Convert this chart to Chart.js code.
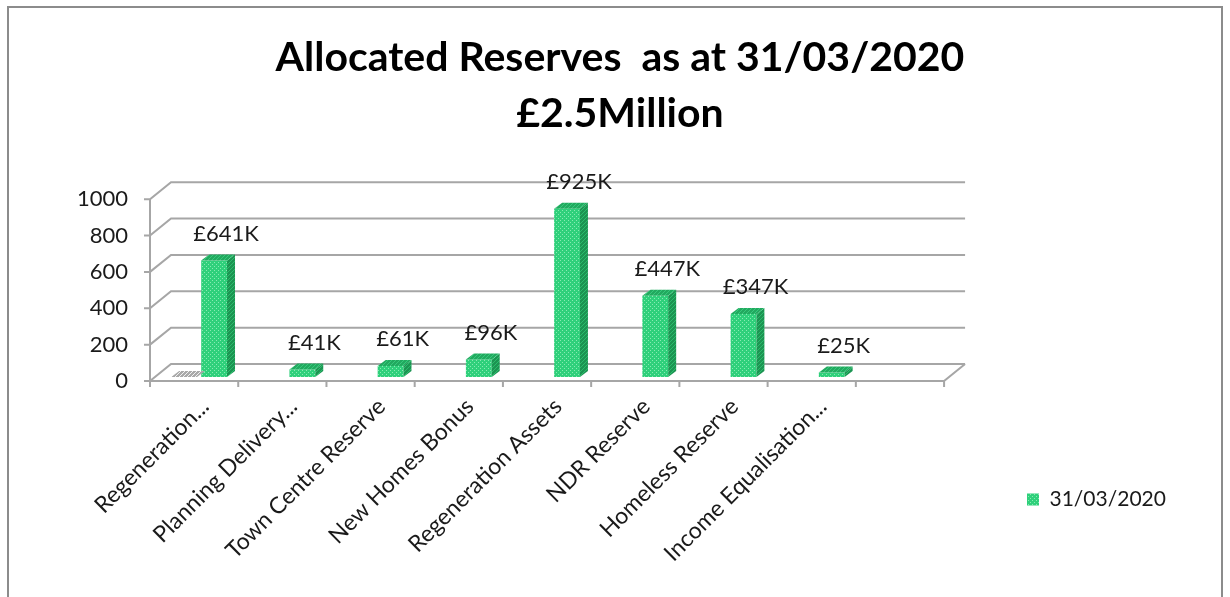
<!DOCTYPE html>
<html>
<head>
<meta charset="utf-8">
<title>Allocated Reserves</title>
<script src="https://cdn.jsdelivr.net/npm/chart.js@4.4.0/dist/chart.umd.min.js"></script>
<style>
    html, body { margin: 0; padding: 0; background: #fff; }
    #wrap { width: 1230px; height: 597px; }
</style>
</head>
<body>
<div id="wrap"><canvas id="reservesChart" width="1230" height="597"></canvas></div>
<script>
// chart data
const categories = ["Regeneration...", "Planning Delivery...", "Town Centre Reserve", "New Homes Bonus",
    "Regeneration Assets", "NDR Reserve", "Homeless Reserve", "Income Equalisation...", ""];
const reserves2020 = [641, 41, 61, 96, 925, 447, 347, 25, null];   // £K
const otherSeries = [0, null, null, null, null, null, null, null, null]; // flat grey series, not in legend
const yTickValues = [0, 200, 400, 600, 800, 1000];
const titleLines = ["Allocated Reserves  as at 31/03/2020", "£2.5Million"];
const seriesName = "31/03/2020";

const FONT = "Lato";
const GRID = "#a6a6a6";
const FRONT = { x: -5, y: 4 };   // front wall offset from bar plane
const BACK = { x: 16, y: -13 };  // back wall offset from bar plane
const DEPTH = { x: 8, y: -6 };   // bar depth

const canvas = document.getElementById("reservesChart");
const ctx = canvas.getContext("2d");

// small tiled patterns like the excel fills
function dotPattern(base, dot) {
    const c = document.createElement("canvas");
    c.width = 4; c.height = 4;
    const g = c.getContext("2d");
    g.fillStyle = base; g.fillRect(0, 0, 4, 4);
    g.fillStyle = dot; g.fillRect(0, 0, 1, 1); g.fillRect(2, 2, 1, 1);
    return ctx.createPattern(c, "repeat");
}
function stripePattern(base, stripe) {
    const c = document.createElement("canvas");
    c.width = 4; c.height = 4;
    const g = c.getContext("2d");
    g.fillStyle = base; g.fillRect(0, 0, 4, 4);
    g.fillStyle = stripe;
    for (let i = 0; i < 4; i++) g.fillRect(i, 3 - i, 1, 1);
    return ctx.createPattern(c, "repeat");
}

const greenFront = dotPattern("#2fd07b", "#86ebb2");
const greenSide = stripePattern("#1c9452", "#2bbd6c");
const greenTop = stripePattern("#22a95f", "#36c97b");
const greyTop = stripePattern("#a8a8a8", "#f0f0f0");

// white page + thin frame round the chart
const backgroundFrame = {
    id: "backgroundFrame",
    beforeDraw(chart) {
        const c = chart.ctx;
        c.save();
        c.fillStyle = "#fff";
        c.fillRect(0, 0, chart.width, chart.height);
        c.strokeStyle = "#8c8c8c";
        c.lineWidth = 2;
        c.strokeRect(8, 7, 1214, 620);
        c.restore();
    }
};

// walls, floor and gridlines in fake 3d
const wallsGrid = {
    id: "wallsGrid",
    beforeDatasetsDraw(chart) {
        const c = chart.ctx;
        const { left, right } = chart.chartArea;
        const y = chart.scales.y, x = chart.scales.x;
        const base = y.getPixelForValue(0);
        const top = y.getPixelForValue(yTickValues[yTickValues.length - 1]);
        c.save();
        c.strokeStyle = GRID;
        c.lineWidth = 2;
        c.beginPath();
        yTickValues.forEach(v => {
            const py = y.getPixelForValue(v);
            c.moveTo(left + FRONT.x - 6, py + FRONT.y);
            c.lineTo(left + FRONT.x, py + FRONT.y);
            c.lineTo(left + BACK.x, py + BACK.y);
            c.lineTo(right + BACK.x, py + BACK.y);
        });
        // front axis lines
        c.moveTo(left + FRONT.x, top + FRONT.y);
        c.lineTo(left + FRONT.x, base + FRONT.y);
        c.lineTo(right + FRONT.x, base + FRONT.y);
        c.lineTo(right + BACK.x, base + BACK.y);
        // category boundary ticks
        for (let i = 0; i <= categories.length; i++) {
            const px = x.getPixelForValue(i - 0.5);
            c.moveTo(px + FRONT.x, base + FRONT.y);
            c.lineTo(px + FRONT.x, base + FRONT.y + 6);
        }
        c.stroke();
        c.restore();
    }
};

// side and top faces of the bars
const barFaces = {
    id: "barFaces",
    afterDatasetsDraw(chart) {
        const c = chart.ctx;
        chart.data.datasets.forEach((ds, di) => {
            const meta = chart.getDatasetMeta(di);
            meta.data.forEach((bar, i) => {
                if (ds.data[i] === null) return;
                const { x, y, base, width } = bar.getProps(["x", "y", "base", "width"], true);
                const l = x - width / 2, r = x + width / 2;
                c.save();
                if (ds.sideFill && base - y > 0) {
                    c.fillStyle = ds.sideFill;
                    c.beginPath();
                    c.moveTo(r, y);
                    c.lineTo(r + DEPTH.x, y + DEPTH.y);
                    c.lineTo(r + DEPTH.x, base + DEPTH.y);
                    c.lineTo(r, base);
                    c.closePath();
                    c.fill();
                }
                c.fillStyle = ds.topFill;
                c.beginPath();
                c.moveTo(l, y);
                c.lineTo(l + DEPTH.x, y + DEPTH.y);
                c.lineTo(r + DEPTH.x, y + DEPTH.y);
                c.lineTo(r, y);
                c.closePath();
                c.fill();
                c.restore();
            });
        });
    }
};

// £..K labels above the green bars
const valueLabels = {
    id: "valueLabels",
    afterDatasetsDraw(chart) {
        const c = chart.ctx;
        const meta = chart.getDatasetMeta(1);
        c.save();
        c.font = "22px " + FONT;
        c.fillStyle = "#1a1a1a";
        c.textAlign = "center";
        c.textBaseline = "middle";
        meta.data.forEach((bar, i) => {
            const v = reserves2020[i];
            if (v === null) return;
            c.fillText("£" + v + "K", bar.x + 12, bar.y - 27);
        });
        c.restore();
    }
};

// legend sits low on the right in the original
const legendSpot = {
    id: "legendSpot",
    afterLayout(chart) {
        const lg = chart.legend;
        const pad = lg.options.labels.padding;
        const dx = 1027 - (lg.left + pad);
        const dy = 489 - (lg.top + pad);
        lg.left += dx; lg.right += dx;
        lg.top += dy; lg.bottom += dy;
    }
};

new Chart(ctx, {
    type: "bar",
    data: {
        labels: categories,
        datasets: [{
            label: "",
            data: otherSeries,
            backgroundColor: greyTop,
            topFill: greyTop,
            sideFill: null,
            borderWidth: 0,
            categoryPercentage: 0.68,
            barPercentage: 0.86
        }, {
            label: seriesName,
            data: reserves2020,
            backgroundColor: greenFront,
            topFill: greenTop,
            sideFill: greenSide,
            borderWidth: 0,
            categoryPercentage: 0.68,
            barPercentage: 0.86
        }]
    },
    options: {
        responsive: false,
        animation: false,
        layout: { padding: { left: 20, right: 10, top: 0, bottom: 0 } },
        plugins: {
            title: {
                display: true,
                text: titleLines,
                color: "#000",
                font: { family: FONT, size: 41, weight: "bold", lineHeight: 1.38 },
                padding: { top: 29, bottom: 53 }
            },
            legend: {
                position: "right",
                align: "start",
                labels: {
                    filter: item => item.text !== "",
                    boxWidth: 12,
                    boxHeight: 12,
                    padding: 122,
                    color: "#1a1a1a",
                    font: { family: FONT, size: 21 }
                }
            },
            tooltip: { enabled: false }
        },
        scales: {
            x: {
                grid: { display: false, drawTicks: false },
                border: { display: false },
                ticks: {
                    autoSkip: false,
                    minRotation: 45,
                    maxRotation: 45,
                    padding: 16,
                    labelOffset: 6,
                    color: "#1a1a1a",
                    font: { family: FONT, size: 23 }
                },
                afterFit: s => { s.height = 220; }
            },
            y: {
                min: 0,
                max: 1000,
                afterBuildTicks: s => { s.ticks = yTickValues.map(v => ({ value: v })); },
                grid: { display: false, drawTicks: false },
                border: { display: false },
                ticks: {
                    padding: 27,
                    labelOffset: 4,
                    color: "#1a1a1a",
                    font: { family: FONT, size: 22 },
                    callback: v => String(v)
                },
                afterFit: s => { s.width = 135; }
            }
        }
    },
    plugins: [backgroundFrame, wallsGrid, barFaces, valueLabels, legendSpot]
});
</script>
</body>
</html>
